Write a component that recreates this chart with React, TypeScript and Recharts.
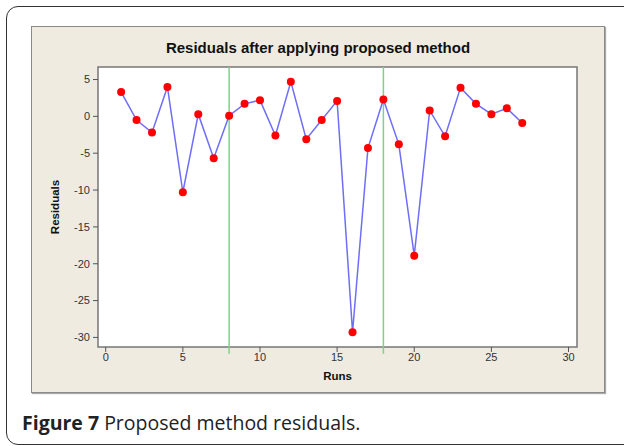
import {
  LineChart,
  Line,
  XAxis,
  YAxis,
  ReferenceLine,
  ReferenceArea,
} from "recharts";

// runs 1..27 and the residual
const runs = [1, 2, 3, 4, 5, 6, 7, 8, 9, 10, 11, 12, 13, 14, 15, 16, 17, 18, 19, 20, 21, 22, 23, 24, 25, 26, 27];
const residuals = [
  3.3, -0.5, -2.2, 4.0, -10.3, 0.3, -5.7, 0.1, 1.7, 2.2, -2.6, 4.7, -3.1, -0.5,
  2.1, -29.3, -4.3, 2.3, -3.8, -18.9, 0.8, -2.7, 3.9, 1.7, 0.3, 1.1, -0.9,
];
const xTicks = [0, 5, 10, 15, 20, 25, 30];
const yTicks = [-30, -25, -20, -15, -10, -5, 0, 5];
const splitRuns = [8, 18];

const X_DOMAIN: [number, number] = [-0.5, 30.55];
const Y_DOMAIN: [number, number] = [-31.3, 6.7];

const data = runs.map((run, i) => ({ run, value: residuals[i] }));

const tickStyle = { fontSize: 11, fill: "#333", fontFamily: "Liberation Sans, Arial, sans-serif" };

const YLabel = ({ viewBox }: any) => {
  const x = viewBox.x + 1;
  const y = viewBox.y + viewBox.height / 2;
  return (
    <text
      x={x}
      y={y}
      transform={`rotate(-90, ${x}, ${y})`}
      textAnchor="middle"
      fontSize={11.5}
      fontWeight="bold"
      fill="#111"
      fontFamily="Liberation Sans, Arial, sans-serif"
    >
      Residuals
    </text>
  );
};

const XLabel = ({ viewBox }: any) => (
  <text
    x={viewBox.x + viewBox.width / 2}
    y={viewBox.y + 33}
    textAnchor="middle"
    fontSize={11.5}
    fontWeight="bold"
    fill="#111"
    fontFamily="Liberation Sans, Arial, sans-serif"
  >
    Runs
  </text>
);

export default function App() {
  return (
    <div
      style={{
        position: "fixed",
        left: 0,
        top: 0,
        width: 624,
        height: 446,
        overflow: "hidden",
        background: "#fff",
      }}
    >
      {/* outer figure frame */}
      <div
        style={{
          position: "absolute",
          left: 6,
          top: 6,
          width: 660,
          height: 437,
          border: "1.5px solid #333",
          borderRadius: 12,
        }}
      />
      {/* minitab grey panel */}
      <div
        style={{
          position: "absolute",
          left: 31,
          top: 26,
          width: 574,
          height: 367,
          boxSizing: "border-box",
          background: "#efebe1",
          border: "1px solid #8a8a8a",
          boxShadow: "1px 1px 1px #aaa",
        }}
      />
      <div
        style={{
          position: "absolute",
          left: 31,
          top: 39,
          width: 574,
          textAlign: "center",
          fontFamily: "Liberation Sans, Arial, sans-serif",
          fontWeight: "bold",
          fontSize: 15,
          color: "#111",
        }}
      >
        Residuals after applying proposed method
      </div>
      <div style={{ position: "absolute", left: 31, top: 26 }}>
        <LineChart
          width={574}
          height={367}
          data={data}
          margin={{ top: 41, right: 28, left: 27, bottom: 16 }}
        >
          <ReferenceArea
            x1={X_DOMAIN[0]}
            x2={X_DOMAIN[1]}
            y1={Y_DOMAIN[0]}
            y2={Y_DOMAIN[1]}
            fill="#fff"
            fillOpacity={1}
            stroke="#777"
            strokeWidth={1.5}
          />
          <XAxis
            type="number"
            dataKey="run"
            domain={X_DOMAIN}
            ticks={xTicks}
            allowDataOverflow
            height={30}
            axisLine={false}
            tickSize={5}
            tickMargin={1}
            tickLine={{ stroke: "#555" }}
            tick={tickStyle}
            label={XLabel}
          />
          <YAxis
            type="number"
            domain={Y_DOMAIN}
            ticks={yTicks}
            allowDataOverflow
            width={40}
            axisLine={false}
            tickSize={5}
            tickMargin={3}
            tickLine={{ stroke: "#555" }}
            tick={tickStyle}
            label={YLabel}
          />
          {splitRuns.map((r) => (
            <ReferenceLine
              key={r}
              ifOverflow="visible"
              segment={[
                { x: r, y: Y_DOMAIN[1] },
                { x: r, y: -32.2 },
              ]}
              stroke="#7fd08c"
              strokeWidth={1.5}
            />
          ))}
          <Line
            type="linear"
            dataKey="value"
            stroke="#6e6ef8"
            strokeWidth={1.5}
            dot={{ r: 4, fill: "#ff0000", stroke: "none" }}
            activeDot={false}
            isAnimationActive={false}
          />
        </LineChart>
      </div>
      <div
        style={{
          position: "absolute",
          left: 22,
          top: 409,
          fontFamily: "Open Sans, Noto Sans, sans-serif",
          fontSize: 19.5,
          color: "#222",
          whiteSpace: "nowrap",
        }}
      >
        <b>Figure 7</b> Proposed method residuals.
      </div>
    </div>
  );
}
